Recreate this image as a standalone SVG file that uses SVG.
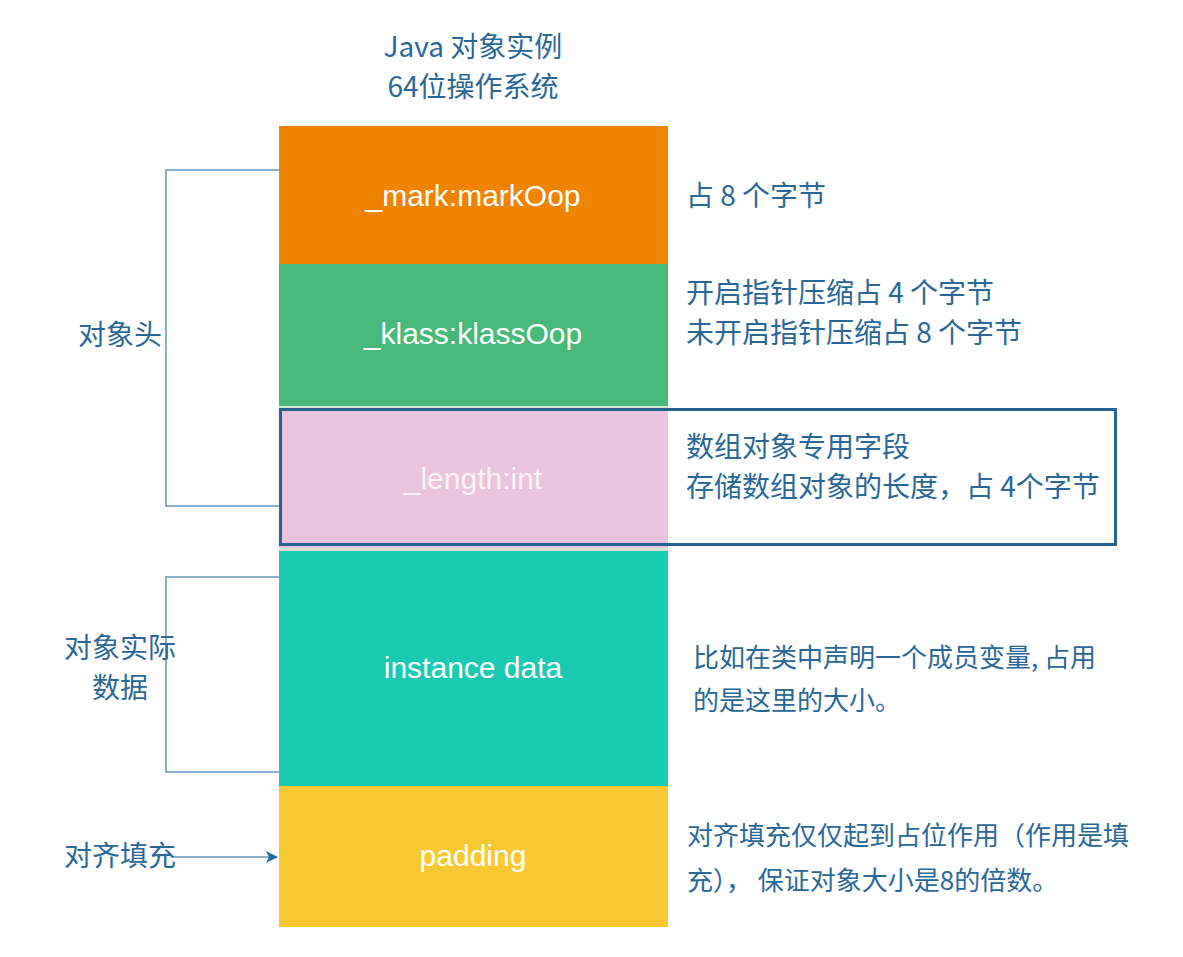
<svg xmlns="http://www.w3.org/2000/svg" width="1183" height="957" viewBox="0 0 1183 957">
<defs>
<style>
.lbl{font-family:"Liberation Sans","Noto Sans CJK SC",sans-serif;fill:#ffffff;font-size:30px;text-anchor:middle}
.t{font-family:"Noto Sans CJK SC","Liberation Sans",sans-serif;fill:#2b6797;font-size:28px}
.t26{font-family:"Noto Sans CJK SC","Liberation Sans",sans-serif;fill:#2b6797;font-size:26px}
.br{fill:none;stroke:#8cb2cb;stroke-width:2}
</style>
<marker id="ah" viewBox="0 0 12 12" refX="11" refY="6" markerWidth="12" markerHeight="12" markerUnits="userSpaceOnUse" orient="auto">
<path d="M0,0 L12,6 L0,12 L3,6 Z" fill="#2a6a9c"/>
</marker>
</defs>
<rect width="1183" height="957" fill="#ffffff"/>
<g id="title">
<text class="t" x="473" y="57" text-anchor="middle">Java 对象实例</text>
<text class="t" x="473" y="97" text-anchor="middle">64位操作系统</text>
</g>
<g id="connectors">
<path class="br" d="M279,170 H166 V506 H279"/>
<path class="br" d="M279,577 H166 V772 H279"/>
<line x1="172" y1="857" x2="277" y2="857" stroke="#86aecb" stroke-width="2" marker-end="url(#ah)"/>
</g>
<g id="mark">
<rect x="279" y="126" width="389" height="138" fill="#f08300"/>
<text class="lbl" x="473" y="206">_mark:markOop</text>
</g>
<g id="klass">
<rect x="279" y="264" width="389" height="142" fill="#46b97b"/>
<text class="lbl" x="473" y="344">_klass:klassOop</text>
</g>
<g id="length">
<rect x="279" y="406" width="389" height="145" fill="#eac4dc"/>
<rect x="279" y="406" width="389" height="2" fill="#d6e6cf"/>
<rect x="279" y="548" width="389" height="2.5" fill="#d6e6cf"/>
<rect x="280.5" y="409.5" width="835" height="135" fill="none" stroke="#26628f" stroke-width="3"/>
<text class="lbl" x="473" y="489" style="fill:#fbf3f8">_length:int</text>
</g>
<g id="instance">
<rect x="279" y="551" width="389" height="235" fill="#1bcbb1"/>
<text class="lbl" x="473" y="678">instance data</text>
</g>
<g id="padding">
<rect x="279" y="786" width="389" height="141" fill="#f8c932"/>
<text class="lbl" x="473" y="866">padding</text>
</g>
<g id="left-labels">
<text class="t" x="120" y="345" text-anchor="middle">对象头</text>
<text class="t" x="120" y="658" text-anchor="middle">对象实际</text>
<text class="t" x="120" y="698" text-anchor="middle">数据</text>
<text class="t" x="120" y="866" text-anchor="middle">对齐填充</text>
</g>
<g id="right-notes">
<text class="t" x="686" y="206">占 8 个字节</text>
<text class="t" x="686" y="303">开启指针压缩占 4 个字节</text>
<text class="t" x="686" y="343">未开启指针压缩占 8 个字节</text>
<text class="t" x="686" y="457">数组对象专用字段</text>
<text class="t" x="686" y="497">存储数组对象的长度，占 4个字节</text>
<text class="t26" x="693" y="667">比如在类中声明一个成员变量, 占用</text>
<text class="t26" x="693" y="710">的是这里的大小。</text>
<text class="t26" x="687" y="845">对齐填充仅仅起到占位作用（作用是填</text>
<text class="t26" x="687" y="890">充）， 保证对象大小是8的倍数。</text>
</g>
</svg>
